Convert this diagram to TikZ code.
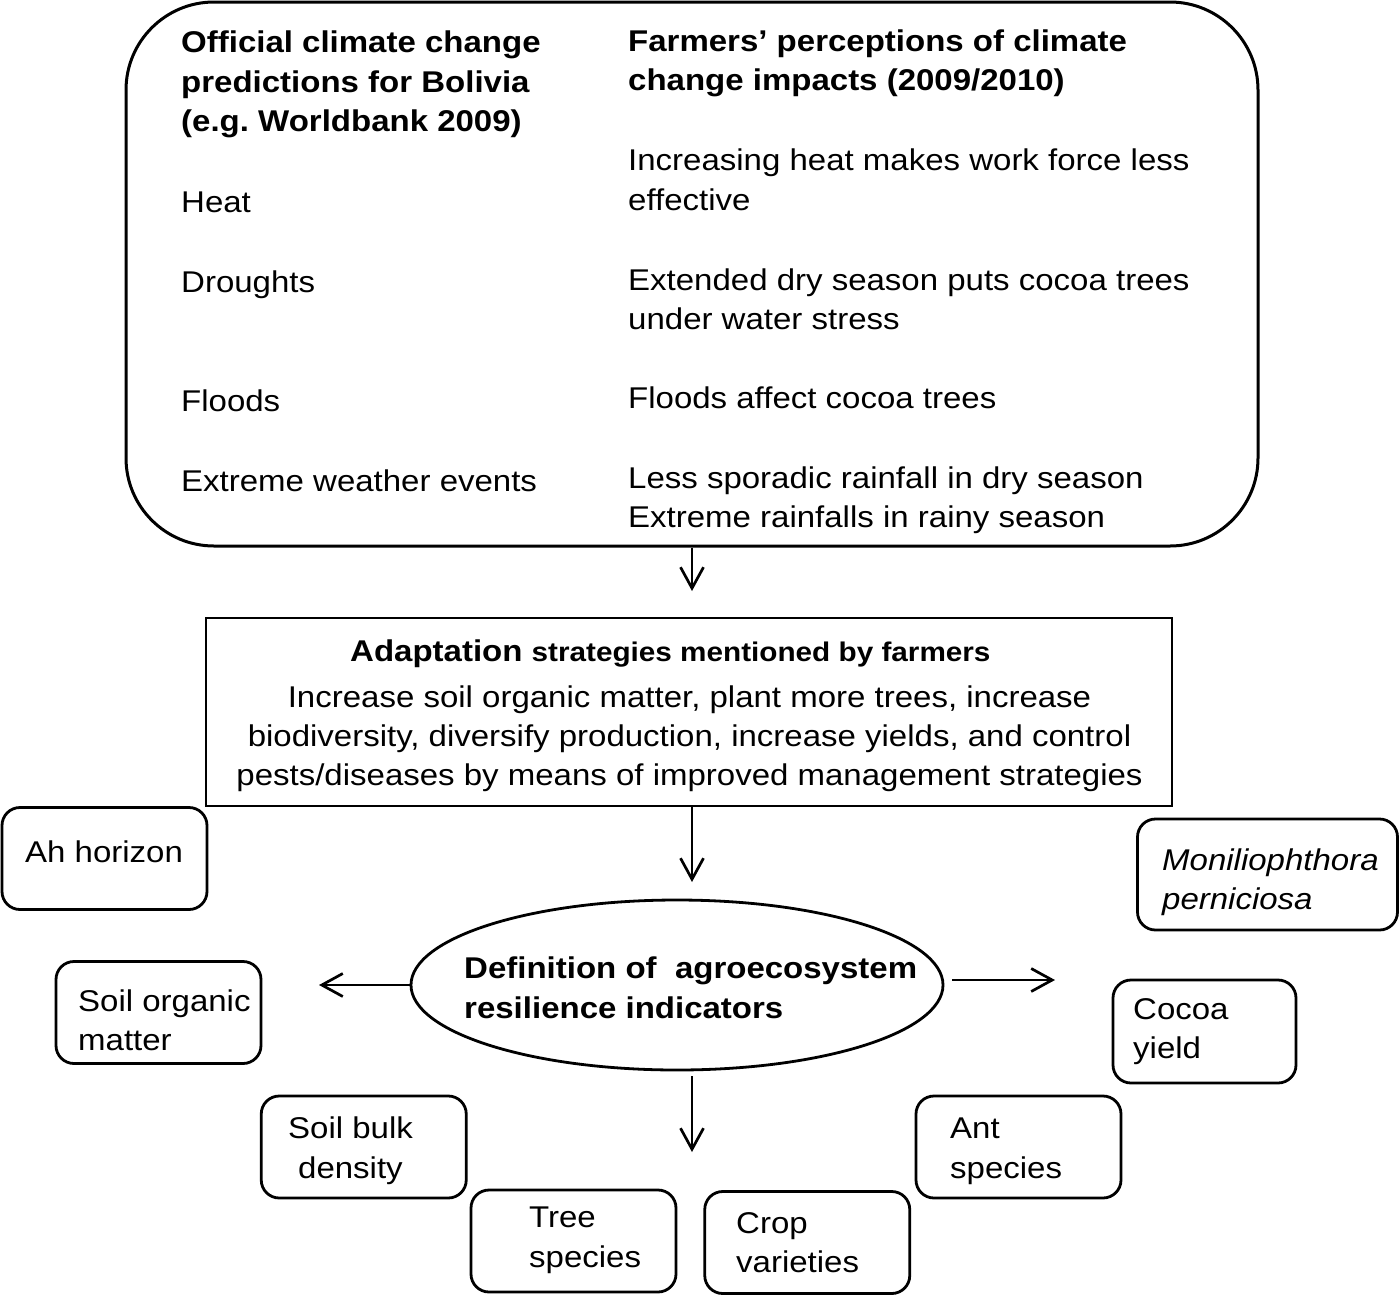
\documentclass[tikz,border=0pt]{standalone}
\usepackage{fontspec}
\setmainfont{Liberation Sans}[FakeStretch=1.1]
\usetikzlibrary{shapes.geometric,arrows.meta}
\newcommand\tline[4]{\node[txt] (#1) at (#2,#3) {#4};}
\frenchspacing
\begin{document}
\begin{tikzpicture}[x=1pt,y=-1pt,
  txt/.style={anchor=base west,inner sep=0pt,font=\fontsize{30}{40}\selectfont},
  ctxt/.style={anchor=base,inner sep=0pt,font=\fontsize{30}{40}\selectfont},
  bigbox/.style={draw,line width=3pt,rounded corners=88pt,inner sep=0pt},
  plainbox/.style={draw,line width=2.8pt,inner sep=0pt},
  sbox/.style={draw,line width=2.8pt,rounded corners=18pt,inner sep=0pt,minimum width=205pt,minimum height=102pt},
  ell/.style={draw,ellipse,line width=2.8pt,inner sep=0pt},
  arr/.style={line width=2.7pt,-{Straight Barb[length=21pt,width=23pt,line width=2.7pt]}}
]
\useasboundingbox (0,0) rectangle (1400,1296);
\fill[white] (0,0) rectangle (1400,1296);

% top box
\node[bigbox,minimum width=1132pt,minimum height=544pt] (top) at (692,274) {};
\tline{l1}{181}{52}{\bfseries Official climate change}
\tline{l2}{181}{92}{\bfseries predictions for Bolivia}
\tline{l3}{181}{131}{\bfseries (e.g. Worldbank 2009)}
\tline{l4}{181}{212}{Heat}
\tline{l5}{181}{292}{Droughts}
\tline{l6}{181}{411}{Floods}
\tline{l7}{181}{491}{Extreme weather events}

\tline{r1}{628}{51}{\bfseries Farmers’ perceptions of climate}
\tline{r2}{628}{90}{\bfseries change impacts (2009/2010)}
\tline{r3}{628}{170}{Increasing heat makes work force less}
\tline{r4}{628}{210}{effective}
\tline{r5}{628}{290}{Extended dry season puts cocoa trees}
\tline{r6}{628}{329}{under water stress}
\tline{r7}{628}{408}{Floods affect cocoa trees}
\tline{r8}{628}{488}{Less sporadic rainfall in dry season}
\tline{r9}{628}{527}{Extreme rainfalls in rainy season}

% adaptation box
\node[plainbox,minimum width=966pt,minimum height=188pt] (adapt) at (689,712) {};
\tline{ah}{350}{661}{\bfseries Adaptation {\fontsize{27}{40}\selectfont strategies mentioned by farmers}}
\node[ctxt] (ab1) at (689.5,707) {Increase soil organic matter, plant more trees, increase};
\node[ctxt] (ab2) at (689.5,746) {biodiversity, diversify production, increase yields, and control};
\node[ctxt] (ab3) at (689.5,785) {pests/diseases by means of improved management strategies};

% ellipse
\node[ell,minimum width=532pt,minimum height=170pt] (ell) at (677,985) {};
\tline{e1}{464}{978}{\bfseries Definition of~ agroecosystem}
\tline{e2}{464}{1018}{\bfseries resilience indicators}

% small boxes
\node[sbox] (bah) at (104.5,858.5) {};
\tline{tah}{25}{862}{Ah horizon}
\node[sbox] (bsom) at (158.5,1012.5) {};
\tline{tsom1}{78}{1011}{Soil organic}
\tline{tsom2}{78}{1050}{matter}
\node[sbox] (bsbd) at (363.75,1147) {};
\tline{tsbd1}{288}{1138}{Soil bulk}
\tline{tsbd2}{298}{1178}{density}
\node[sbox] (btree) at (573.5,1241) {};
\tline{ttree1}{529}{1227}{Tree}
\tline{ttree2}{529}{1267}{species}
\node[sbox] (bcrop) at (807.25,1242.5) {};
\tline{tcrop1}{736}{1233}{Crop}
\tline{tcrop2}{736}{1272}{varieties}
\node[sbox] (bant) at (1018.5,1147) {};
\tline{tant1}{950}{1138}{Ant}
\tline{tant2}{950}{1178}{species}
\node[sbox,minimum width=183pt,minimum height=103pt] (bcocoa) at (1204.5,1031.5) {};
\tline{tcocoa1}{1133}{1019}{Cocoa}
\tline{tcocoa2}{1133}{1058}{yield}
\node[sbox,minimum width=260pt,minimum height=111pt] (bmon) at (1267.5,874.5) {};
\tline{tmon1}{1162}{870}{\itshape Moniliophthora}
\tline{tmon2}{1162}{909}{\itshape perniciosa}

% arrows
\coordinate (a1end) at (692,591);
\coordinate (a2end) at (692,882);
\coordinate (lend) at (319,985);
\coordinate (rstart) at (952,980);
\coordinate (rend) at (1055,980);
\coordinate (dstart) at (692,1076);
\coordinate (dend) at (692,1152);
\draw[arr] (top.south -| a1end) -- (a1end);
\draw[arr] (adapt.south -| a2end) -- (a2end);
\draw[arr] (ell.west) -- (lend);
\draw[arr] (rstart) -- (rend);
\draw[arr] (dstart) -- (dend);
\end{tikzpicture}
\end{document}
